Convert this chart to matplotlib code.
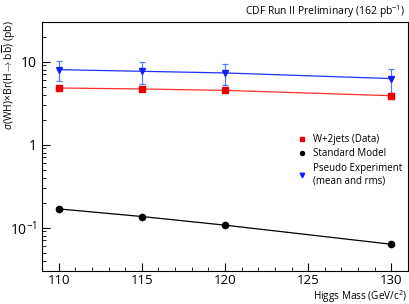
import matplotlib
matplotlib.use('Agg')
from matplotlib import pyplot as plt
from matplotlib.ticker import FixedLocator, FuncFormatter, MultipleLocator, LogLocator

plt.rcParams['font.family'] = ['Open Sans', 'DejaVu Sans']
plt.rcParams['mathtext.fontset'] = 'custom'
plt.rcParams['mathtext.rm'] = 'Open Sans'
plt.rcParams['mathtext.it'] = 'Open Sans:italic'

# 数据
masses = [110, 115, 120, 130]
w2jets = [4.81, 4.68, 4.50, 3.88]
sm = [0.168, 0.136, 0.107, 0.063]
pseudo = [8.0, 7.64, 7.3, 6.24]
pseudo_rms = [2.2, 2.2, 2.1, 2.0]

fig = plt.figure(dpi=100, figsize=(4.1, 3.04))
ax = fig.add_axes([42 / 410, 1 - 271 / 304, 366 / 410, 249 / 304])

ax.errorbar(masses, pseudo, yerr=pseudo_rms, fmt='none', ecolor='#5a78ff',
            elinewidth=0.9, capsize=2, capthick=0.9)
ax.plot(masses, w2jets, c='#ff3030', lw=0.9, marker='s', ms=5,
        mfc='#ee0000', mec='#ee0000', label='W+2jets (Data)')
ax.plot(masses, sm, c='black', lw=0.9, marker='o', ms=4.5,
        label='Standard Model')
ax.plot(masses, pseudo, c='#2030ff', lw=0.9, marker='v', ms=5,
        mfc='#1020ff', mec='#1020ff', label='Pseudo Experiment\n(mean and rms)')

ax.set_yscale('log')
ax.set_ylim(0.03, 30)
ax.set_xlim(109, 131)

ax.xaxis.set_major_locator(FixedLocator([110, 115, 120, 125, 130]))
ax.xaxis.set_minor_locator(MultipleLocator(1))
ax.yaxis.set_major_locator(FixedLocator([0.1, 1, 10]))
ax.yaxis.set_minor_locator(LogLocator(base=10, subs=range(2, 10)))


def ylab(v, pos):
    if abs(v - 0.1) < 1e-6:
        return r'10$^{-1}$'
    if abs(v - 1) < 1e-6:
        return '1'
    if abs(v - 10) < 1e-6:
        return '10'
    return ''


ax.yaxis.set_major_formatter(FuncFormatter(ylab))
ax.yaxis.set_minor_formatter(FuncFormatter(lambda v, p: ''))
ax.tick_params(axis='both', which='major', direction='in', length=6,
               width=0.8, labelsize=10, top=False, right=False)
ax.tick_params(axis='both', which='minor', direction='in', length=3,
               width=0.6, top=False, right=False)
ax.tick_params(axis='x', pad=2, labelsize=9.5)
for s in ax.spines.values():
    s.set_linewidth(0.8)

ax.legend(loc='upper left', bbox_to_anchor=(0.69, 0.57), frameon=False,
          fontsize=7, handlelength=0.6, handletextpad=0.8,
          labelspacing=0.35, borderpad=0, markerscale=0.65)
leg = ax.get_legend()
for h in leg.legend_handles:
    h.set_linestyle('none')

fig.text(405 / 410, 1 - 12 / 304, r'CDF Run II Preliminary (162 pb$^{-1}$)',
         ha='right', va='center', fontsize=7.5)
fig.text(407 / 410, 1 - 300 / 304, r'Higgs Mass (GeV/c$^2$)',
         ha='right', va='baseline', fontsize=7.2)
fig.text(9 / 410, 1 - 20 / 304,
         r'$\sigma$(WH)$\times$Br(H$\rightarrow$b$\overline{\mathrm{b}}$) (pb)',
         ha='center', va='top', rotation=90, fontsize=7.5)

plt.savefig('out.png', dpi=100)
